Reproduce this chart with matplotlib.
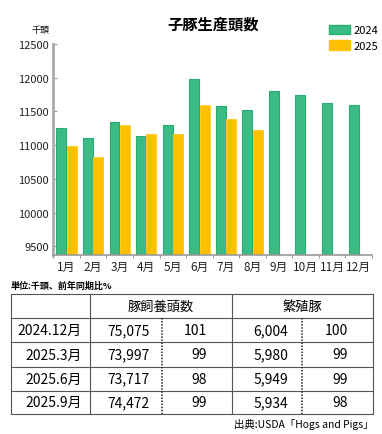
import matplotlib
matplotlib.use("Agg")
import matplotlib.pyplot as plt
import numpy as np
from matplotlib.patches import Patch

plt.rcParams['font.family'] = ['Noto Sans CJK JP', 'DejaVu Sans']

months = ['1月', '2月', '3月', '4月', '5月', '6月', '7月', '8月', '9月', '10月', '11月', '12月']
v2024 = [11250, 11100, 11350, 11130, 11300, 11975, 11575, 11520, 11800, 11740, 11625, 11595]
v2025 = [10990, 10820, 11305, 11160, 11165, 11590, 11385, 11228]
yticks = [9500, 10000, 10500, 11000, 11500, 12000, 12500]

row_labels = ['2024.12月', '2025.3月', '2025.6月', '2025.9月']
hogs_total = ['75,075', '73,997', '73,717', '74,472']
hogs_ratio = ['101', '99', '98', '99']
breed_total = ['6,004', '5,980', '5,949', '5,934']
breed_ratio = ['100', '99', '99', '98']
header_cols = ['豚飼養頭数', '繁殖豚']

green = '#3dbb85'
green_edge = '#25ad72'
yellow = '#ffc000'

W, H = 382, 435
fig = plt.figure(figsize=(W / 100, H / 100), dpi=100)

# overlay axes in pixel coordinates for table / texts
ov = fig.add_axes([0, 0, 1, 1])
ov.set_xlim(0, W)
ov.set_ylim(H, 0)
ov.axis('off')

ax = fig.add_axes([53.3 / W, 1 - 255.7 / H, (372 - 53.3) / W, (255.7 - 45) / H])
x = np.arange(len(months))
bw = 0.375
ax.bar(x - 0.195, v2024, width=bw, color=green, edgecolor=green_edge, linewidth=0.8, zorder=2)
ax.bar(x[:len(v2025)] + 0.195, v2025, width=bw, color=yellow, edgecolor='#ffc820', linewidth=0.6, zorder=2)
ax.set_xlim(-0.5, len(months) - 0.5)
ax.set_ylim(9375, 12500)
ax.set_yticks(yticks)
ax.set_yticklabels([str(t) for t in yticks], fontsize=8, color='#222222')
ax.set_xticks(x)
ax.set_xticklabels(months, fontsize=8.5, color='#222222')
ax.set_xticks(np.arange(len(months) + 1) - 0.5, minor=True)
ax.tick_params(axis='x', which='major', length=0, pad=4)
ax.tick_params(axis='x', which='minor', length=2.5, color='#999999', width=0.8, direction='out')
ax.tick_params(axis='y', length=3, color='#999999', width=0.8, direction='in', pad=3)
for s in ['top', 'right']:
    ax.spines[s].set_visible(False)
ax.spines['left'].set_color('#aaaaaa')
ax.spines['left'].set_linewidth(2)
ax.spines['bottom'].set_color('#999999')
ax.spines['bottom'].set_linewidth(1.2)
ax.patch.set_alpha(0)

fig.text(213 / W, 1 - 25 / H, '子豚生産頭数', ha='center', va='center', fontsize=11, fontweight='bold')
fig.text(40 / W, 1 - 30 / H, '千頭', ha='center', va='center', fontsize=6.5)

handles = [Patch(facecolor=green, edgecolor=green_edge, label='2024'),
           Patch(facecolor=yellow, edgecolor=yellow, label='2025')]
fig.legend(handles=handles, loc='upper right', bbox_to_anchor=(378 / W, 1 - 26 / H), frameon=False,
           fontsize=8, handlelength=1.9, handleheight=0.9, handletextpad=0.3, labelspacing=0.45,
           borderpad=0, borderaxespad=0)

# table
xs = [11, 90, 162, 232, 302, 373]
ys = [295, 319.3, 343.3, 367.7, 391.7, 415]
lc = '#555555'
lw = 0.8
for yy in ys:
    ov.plot([xs[0], xs[-1]], [yy, yy], color=lc, lw=lw)
for i, xx in enumerate(xs):
    if i in (2, 4):
        ov.plot([xx, xx], [ys[1], ys[-1]], color='#222222', lw=1.1, linestyle=(0, (1, 1)))
    else:
        ov.plot([xx, xx], [ys[0], ys[-1]], color=lc, lw=lw)

ov.text((xs[1] + xs[3]) / 2, (ys[0] + ys[1]) / 2, header_cols[0], ha='center', va='center', fontsize=9.5)
ov.text((xs[3] + xs[5]) / 2, (ys[0] + ys[1]) / 2, header_cols[1], ha='center', va='center', fontsize=9.5)
col_right = [82, 150, 207, 288, 348]
for r in range(4):
    yc = (ys[r + 1] + ys[r + 2]) / 2
    vals = [row_labels[r], hogs_total[r], hogs_ratio[r], breed_total[r], breed_ratio[r]]
    for c, v in enumerate(vals):
        ov.text(col_right[c], yc, v, ha='right', va='center', fontsize=10)

ov.text(11, 286.5, '単位:千頭、前年同期比%', ha='left', va='center', fontsize=6.5, fontweight='bold')
ov.text(373, 425, '出典:USDA「Hogs and Pigs」', ha='right', va='center', fontsize=7.5)

fig.savefig('out.png', dpi=100)
